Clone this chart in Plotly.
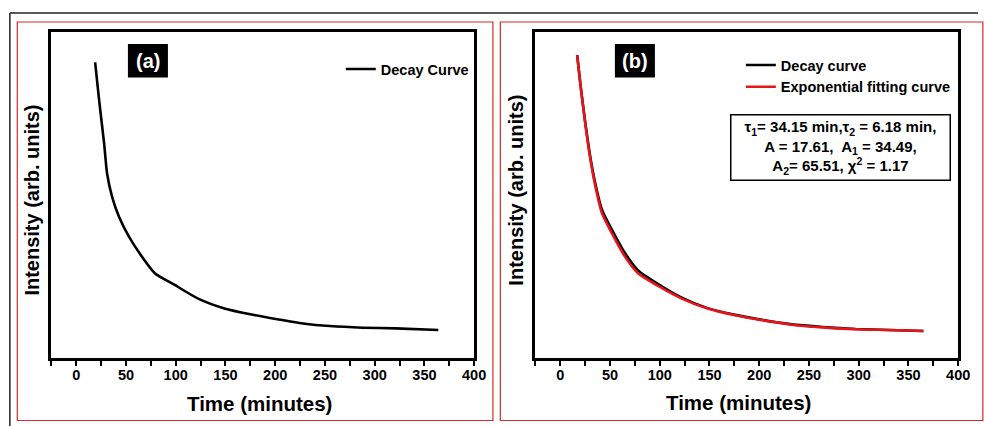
import plotly.graph_objects as go

# ---------------- data ----------------
time_a = [19, 23, 28, 31, 36, 43, 53, 66, 79, 99, 122, 149, 175, 202, 228, 255, 288, 321, 364]
decay_a = [90.7, 79.1, 65.9, 56.6, 49.5, 43.3, 37.2, 31.1, 26.0, 22.4, 18.3, 15.2, 13.4, 11.9, 10.6, 9.8, 9.3, 9.1, 8.6]

time_b = [17, 20.5, 25.5, 30.4, 35.4, 42, 52, 65, 78.5, 98.4, 121.6, 148, 174.6, 201, 231, 264, 297, 330, 365]
decay_b = [92.9, 83.4, 71.4, 61.3, 53.3, 45.4, 39.3, 32.2, 26.8, 22.7, 18.6, 15.3, 13.3, 11.8, 10.4, 9.5, 8.9, 8.6, 8.3]
fit_b = [92.9, 83.2, 71.0, 60.7, 52.5, 44.4, 38.2, 31.1, 25.9, 22.1, 18.3, 15.2, 13.2, 11.7, 10.3, 9.4, 8.8, 8.6, 8.3]

x_ticks = [-25, 0, 25, 50, 75, 100, 125, 150, 175, 200, 225, 250, 275, 300, 325, 350, 375, 400]
x_tick_text = ["", "0", "", "50", "", "100", "", "150", "", "200", "", "250", "", "300", "", "350", "", "400"]

legend_a = ["Decay Curve"]
legend_b = ["Decay curve", "Exponential fitting curve"]

fit_text = ("τ<sub>1</sub>= 34.15 min,τ<sub>2</sub> = 6.18 min,<br>"
            "A = 17.61,  A<sub>1</sub> = 34.49,<br>"
            "A<sub>2</sub>= 65.51, χ<sup>2</sup> = 1.17")

# ---------------- layout helpers ----------------
W, H = 984, 426
FONT = "Liberation Sans, Arial, sans-serif"


def px(x):
    return x / W


def py(y):
    return 1 - y / H


fig = go.Figure()

fig.add_trace(go.Scatter(x=time_a, y=decay_a, mode="lines", name="<b>" + legend_a[0] + "</b>",
                         line=dict(color="black", width=2.6, shape="spline", smoothing=0.6),
                         xaxis="x", yaxis="y", legend="legend"))
fig.add_trace(go.Scatter(x=time_b, y=decay_b, mode="lines", name="<b>" + legend_b[0] + "</b>",
                         line=dict(color="black", width=2.6, shape="spline", smoothing=0.6),
                         xaxis="x2", yaxis="y2", legend="legend2"))
fig.add_trace(go.Scatter(x=time_b, y=fit_b, mode="lines", name="<b>" + legend_b[1] + "</b>",
                         line=dict(color="#e8141b", width=2.6, shape="spline", smoothing=0.6),
                         xaxis="x2", yaxis="y2", legend="legend2"))

xaxis_common = dict(range=[-25, 400], tickmode="array", tickvals=x_ticks, ticktext=x_tick_text,
                    ticks="outside", ticklen=5, tickwidth=2, tickcolor="black",
                    ticklabelstandoff=-3,
                    showline=True, linewidth=3, linecolor="black", mirror=True,
                    showgrid=False, zeroline=False,
                    tickfont=dict(family=FONT, size=14.5, color="black", weight="bold"))
yaxis_common = dict(range=[0, 100], showticklabels=False, ticks="",
                    showline=True, linewidth=3, linecolor="black", mirror=True,
                    showgrid=False, zeroline=False)

dom_y = [py(358), py(32)]
legend_font = dict(family=FONT, size=14.5, color="black")
fig.update_layout(
    width=W, height=H,
    margin=dict(l=0, r=0, t=0, b=0),
    paper_bgcolor="white", plot_bgcolor="white",
    xaxis=dict(domain=[px(52), px(480)], anchor="y", **xaxis_common),
    yaxis=dict(domain=dom_y, anchor="x", **yaxis_common),
    xaxis2=dict(domain=[px(542), px(970)], anchor="y2", **xaxis_common),
    yaxis2=dict(domain=dom_y, anchor="x2", **yaxis_common),
    legend=dict(x=px(345), y=py(53), xanchor="left", yanchor="top",
                bgcolor="rgba(0,0,0,0)", borderwidth=0, font=legend_font),
    legend2=dict(x=px(750), y=py(49), xanchor="left", yanchor="top",
                 bgcolor="rgba(0,0,0,0)", borderwidth=0, font=legend_font),
    showlegend=True,
)

shapes = [
    # outer black frame (left and top edges)
    dict(type="line", xref="paper", yref="paper", x0=px(10), y0=py(430), x1=px(10), y1=py(13),
         line=dict(color="#222", width=1.5)),
    dict(type="line", xref="paper", yref="paper", x0=px(10), y0=py(13), x1=px(990), y1=py(13),
         line=dict(color="#222", width=1.5)),
    # red panel frames
    dict(type="rect", xref="paper", yref="paper", x0=px(17.5), y0=py(420.5), x1=px(499), y1=py(22),
         line=dict(color="#d42a2a", width=1.2)),
    dict(type="rect", xref="paper", yref="paper", x0=px(506.5), y0=py(420.5), x1=px(995), y1=py(22),
         line=dict(color="#d42a2a", width=1.2)),
    # panel label boxes
    dict(type="rect", xref="paper", yref="paper", x0=px(129.5), y0=py(77.5), x1=px(170), y1=py(44),
         fillcolor="black", line=dict(width=0)),
    dict(type="rect", xref="paper", yref="paper", x0=px(622.5), y0=py(77.5), x1=px(663), y1=py(44),
         fillcolor="black", line=dict(width=0)),
]
fig.update_layout(shapes=shapes)

ann_common = dict(xref="paper", yref="paper", showarrow=False, xanchor="center", yanchor="middle")
title_font = dict(family=FONT, size=20.5, color="black", weight="bold")
annotations = [
    dict(text="(a)", x=px(150), y=py(61), font=dict(family=FONT, size=20, color="white", weight="bold"),
         **ann_common),
    dict(text="(b)", x=px(643), y=py(61), font=dict(family=FONT, size=20, color="white", weight="bold"),
         **ann_common),
    dict(text="Time (minutes)", x=px(263), y=py(403), font=title_font, **ann_common),
    dict(text="Time (minutes)", x=px(748), y=py(402), font=title_font, **ann_common),
    dict(text="Intensity (arb. units)", x=px(32), y=py(200), textangle=-90,
         font=dict(family=FONT, size=20, color="black", weight="bold"), **ann_common),
    dict(text="Intensity (arb. units)", x=px(522), y=py(190), textangle=-90,
         font=dict(family=FONT, size=20, color="black", weight="bold"), **ann_common),
    dict(text=fit_text, x=px(850.5), y=py(147.5), align="center",
         width=212, height=58, bordercolor="black", borderwidth=1.5, borderpad=3, bgcolor="white",
         font=dict(family=FONT, size=15, color="black", weight="bold"), **ann_common),
]
fig.update_layout(annotations=annotations)

fig.write_html("out.html", config={"displayModeBar": False},
               post_script="document.body.style.margin='0';document.body.style.overflow='hidden';")
